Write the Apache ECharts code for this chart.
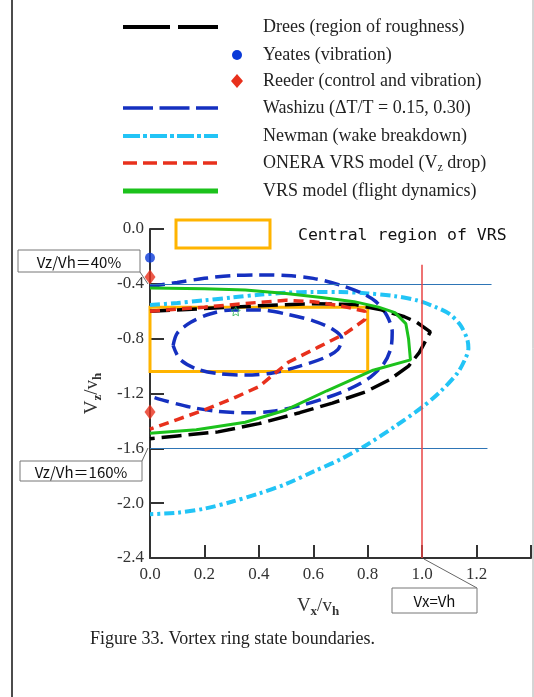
<!DOCTYPE html>
<html>
<head>
<meta charset="utf-8">
<script src="https://cdn.jsdelivr.net/npm/echarts@6/dist/echarts.min.js"></script>
<style>
html, body { margin: 0; padding: 0; background: #fff; }
#main { width: 534px; height: 697px; }
</style>
</head>
<body>
<div id="main"></div>
<script>
// [Vx/vh, Vz/vh]
var drees = [[0, -0.6], [0.2, -0.58], [0.4, -0.56], [0.6, -0.545], [0.75, -0.55], [0.85, -0.59],
    [0.935, -0.64], [0.98, -0.68], [1.03, -0.75], [0.99, -0.9], [0.95, -1.0], [0.88, -1.1],
    [0.79, -1.19], [0.67, -1.27], [0.55, -1.34], [0.4, -1.42], [0.25, -1.48], [0.1, -1.51], [0, -1.53]];
var yeates = [[0, -0.21]];
var reeder = [[0, -0.35], [0, -1.335]];
var washizuOuter = [[0, -0.42], [0.1, -0.39], [0.2, -0.36], [0.3, -0.34], [0.4, -0.335], [0.5, -0.34],
    [0.6, -0.36], [0.7, -0.41], [0.78, -0.47], [0.83, -0.53], [0.87, -0.63], [0.89, -0.75], [0.885, -0.87],
    [0.86, -0.98], [0.81, -1.08], [0.74, -1.16], [0.65, -1.23], [0.55, -1.29], [0.45, -1.33], [0.35, -1.34],
    [0.25, -1.33], [0.15, -1.3], [0.05, -1.25], [0, -1.22]];
var washizuInner = [[0.085, -0.85], [0.1, -0.76], [0.15, -0.68], [0.22, -0.62], [0.3, -0.59], [0.4, -0.59],
    [0.5, -0.62], [0.6, -0.67], [0.67, -0.73], [0.705, -0.8], [0.69, -0.88], [0.64, -0.94], [0.55, -1.0],
    [0.45, -1.05], [0.35, -1.065], [0.25, -1.055], [0.17, -1.02], [0.11, -0.95], [0.085, -0.85]];
var newman = [[0, -0.555], [0.1, -0.54], [0.2, -0.52], [0.3, -0.5], [0.4, -0.48], [0.5, -0.465], [0.6, -0.46],
    [0.7, -0.46], [0.8, -0.47], [0.9, -0.49], [0.98, -0.52], [1.05, -0.57], [1.1, -0.62], [1.14, -0.7],
    [1.165, -0.8], [1.17, -0.87], [1.16, -0.94], [1.13, -1.05], [1.07, -1.18], [1.0, -1.3], [0.9, -1.44],
    [0.8, -1.57], [0.7, -1.68], [0.6, -1.77], [0.5, -1.86], [0.4, -1.93], [0.3, -1.99], [0.2, -2.04],
    [0.1, -2.07], [0, -2.08]];
var onera = [[0, -0.6], [0.2, -0.57], [0.4, -0.535], [0.5, -0.52], [0.6, -0.53], [0.7, -0.56], [0.79, -0.6],
    [0.79, -0.66], [0.72, -0.76], [0.62, -0.86], [0.51, -0.97], [0.4, -1.15], [0.3, -1.24], [0.2, -1.32],
    [0.1, -1.39], [0, -1.46]];
var vrsModel = [[0, -0.43], [0.2, -0.435], [0.35, -0.445], [0.5, -0.47], [0.63, -0.5], [0.75, -0.53],
    [0.84, -0.57], [0.9, -0.61], [0.94, -0.69], [0.95, -0.8], [0.957, -0.955], [0.82, -1.03], [0.65, -1.18],
    [0.5, -1.32], [0.35, -1.41], [0.17, -1.465], [0, -1.49]];
var stray = [[0.315, -0.6]];
var centralBox = [[0, -0.57], [0.8, -1.04]];
var legendNames = ['Drees (region of roughness)', 'Yeates (vibration)', 'Reeder (control and vibration)',
    'Washizu (\u0394T/T = 0.15, 0.30)', 'Newman (wake breakdown)', 'ONERA VRS model (V{s|z} drop)',
    'VRS model (flight dynamics)'];

var serif = '"Liberation Serif", "DejaVu Serif", serif';
var gothic = '"Noto Sans CJK JP", sans-serif';

var myChart = echarts.init(document.getElementById('main'));

function lgLine(y, color, width, dash) {
    return {type: 'line', shape: {x1: 123, y1: y, x2: 218, y2: y},
        style: {stroke: color, lineWidth: width, lineDash: dash}};
}
function lgText(y, txt) {
    return {type: 'text', x: 263, y: y, style: {text: txt, font: '18px ' + serif, fill: '#222',
        verticalAlign: 'middle', rich: {s: {fontSize: 12, fontFamily: serif, padding: [9, 0, 0, 0]}}}};
}
function note(x, y, w, h, txt) {
    return [{type: 'rect', shape: {x: x, y: y, width: w, height: h},
            style: {fill: '#fff', stroke: '#777', lineWidth: 1}},
        {type: 'text', x: x + w / 2, y: y + h / 2 + 1, style: {text: txt, font: '15px ' + gothic,
            fill: '#111', align: 'center', verticalAlign: 'middle'}}];
}
function leader(x1, y1, x2, y2) {
    return {type: 'line', shape: {x1: x1, y1: y1, x2: x2, y2: y2}, style: {stroke: '#666', lineWidth: 1}};
}

var rows = [27, 55, 81, 108, 136, 163, 191];
var graphics = [
    {type: 'line', shape: {x1: 12, y1: 0, x2: 12, y2: 697}, style: {stroke: '#111', lineWidth: 1.5}},
    {type: 'line', shape: {x1: 533, y1: 0, x2: 533, y2: 697}, style: {stroke: '#aaa', lineWidth: 1}},
    lgLine(rows[0], '#000', 4, [47, 8]),
    {type: 'circle', shape: {cx: 237, cy: rows[1], r: 5}, style: {fill: '#0a3ad8'}},
    {type: 'polygon', shape: {points: [[237, 74], [243, 81], [237, 88], [231, 81]]}, style: {fill: '#e8301c'}},
    lgLine(rows[3], '#1530c0', 3.5, [30, 6.5]),
    lgLine(rows[4], '#22c4f6', 4, [17, 3, 4, 3]),
    lgLine(rows[5], '#e8301c', 3.5, [14, 6]),
    lgLine(rows[6], '#1cc21c', 5, null),
    {type: 'rect', shape: {x: 176, y: 220, width: 94, height: 28},
        style: {fill: 'none', stroke: '#ffb400', lineWidth: 3}},
    {type: 'text', x: 298, y: 236, style: {text: 'Central region of VRS', font: '16.5px "DejaVu Sans Mono", monospace',
        fill: '#111', verticalAlign: 'middle'}},
    leader(140, 272, 148, 284),
    leader(142, 461, 148, 448),
    leader(477, 588, 424, 559),
    {type: 'text', x: 318, y: 606, style: {text: '{v|V}{s|x}{v|/v}{s|h}', align: 'center', verticalAlign: 'middle',
        rich: {v: {fontSize: 19, fontFamily: serif, fill: '#333'},
            s: {fontSize: 13, fontFamily: serif, fontWeight: 'bold', fill: '#333', padding: [11, 0, 0, 0]}}}},
    {type: 'text', x: 90, y: 639, style: {text: 'Figure 33. Vortex ring state boundaries.', font: '18px ' + serif,
        fill: '#222', verticalAlign: 'middle'}}
];
legendNames.forEach(function (n, i) { graphics.push(lgText(rows[i], n)); });
graphics = graphics.concat(note(18, 250, 122, 22, 'Vz/Vh\uff1d40%'), note(20, 461, 122, 20, 'Vz/Vh\uff1d160%'),
    note(392, 588, 85, 25, 'Vx=Vh'));

function dashed(name, data, color, width, dash, smooth) {
    return {name: name, type: 'line', data: data, symbol: 'none', smooth: smooth, clip: false,
        lineStyle: {color: color, width: width, type: dash}, z: 3};
}

var option = {
    animation: false,
    grid: {left: 150, top: 229, width: 385, height: 329},
    xAxis: {
        type: 'value', min: 0, max: 1.4, interval: 0.2,
        axisLine: {onZero: false, lineStyle: {color: '#333', width: 2}},
        axisTick: {inside: true, length: 13, lineStyle: {color: '#333', width: 2}},
        axisLabel: {color: '#333', fontFamily: serif, fontSize: 17, margin: 8,
            formatter: function (v) { return v > 1.3 ? '' : v.toFixed(1); }},
        splitLine: {show: false}
    },
    yAxis: {
        type: 'value', min: -2.4, max: 0, interval: 0.4,
        name: '{v|V}{s|z}{v|/v}{s|h}', nameLocation: 'middle', nameGap: 46, nameRotate: 90,
        nameTextStyle: {rich: {v: {fontSize: 19, fontFamily: serif, color: '#333'},
            s: {fontSize: 13, fontFamily: serif, fontWeight: 'bold', color: '#333', padding: [11, 0, 0, 0]}}},
        axisLine: {onZero: false, lineStyle: {color: '#333', width: 2}},
        axisTick: {inside: true, length: 14, lineStyle: {color: '#333', width: 2}},
        axisLabel: {color: '#333', fontFamily: serif, fontSize: 17, margin: 6,
            formatter: function (v) { return v.toFixed(1); }},
        splitLine: {show: false}
    },
    graphic: graphics,
    series: [
        {name: 'marks', type: 'line', data: [], symbol: 'none', silent: true,
            markLine: {symbol: 'none', silent: true, label: {show: false},
                data: [
                    [{coord: [0, -0.4], lineStyle: {color: '#2e75b6', width: 1, type: 'solid'}}, {coord: [1.255, -0.4]}],
                    [{coord: [0, -1.6], lineStyle: {color: '#2e75b6', width: 1, type: 'solid'}}, {coord: [1.24, -1.6]}],
                    [{coord: [1.0, -0.26], lineStyle: {color: '#e84545', width: 1.5, type: 'solid'}}, {coord: [1.0, -2.4]}]
                ]},
            markArea: {silent: true, itemStyle: {color: 'rgba(0,0,0,0)', borderColor: '#ffb400', borderWidth: 3},
                data: [[{coord: centralBox[0]}, {coord: centralBox[1]}]]}},
        dashed('Newman', newman, '#22c4f6', 4, [10, 4, 3, 4], 0.3),
        dashed('Washizu', washizuOuter, '#1530c0', 3.5, [15, 7], 0.3),
        dashed('Washizu', washizuInner, '#1530c0', 3.5, [15, 7], 0.3),
        dashed('Drees', drees, '#000', 3.5, [20, 7], false),
        dashed('ONERA', onera, '#e8301c', 3.5, [10, 6], false),
        dashed('VRS model', vrsModel, '#1cc21c', 3, 'solid', false),
        {name: 'Yeates', type: 'scatter', data: yeates, symbol: 'circle', symbolSize: 10, clip: false,
            itemStyle: {color: '#0a3ad8'}, z: 4},
        {name: 'Reeder', type: 'scatter', data: reeder, symbol: 'diamond', symbolSize: [11, 15], clip: false,
            itemStyle: {color: '#e8301c'}, z: 4},
        {name: 'star', type: 'scatter', data: stray, symbol: 'path://M0,-10 L2.9,-4 L9.5,-3.1 L4.8,1.5 L5.9,8.1 L0,5 L-5.9,8.1 L-4.8,1.5 L-9.5,-3.1 L-2.9,-4 Z',
            symbolSize: 9, clip: false, itemStyle: {color: 'rgba(0,0,0,0)', borderColor: '#22b04a', borderWidth: 1}, z: 5}
    ]
};
myChart.setOption(option);
</script>
</body>
</html>
